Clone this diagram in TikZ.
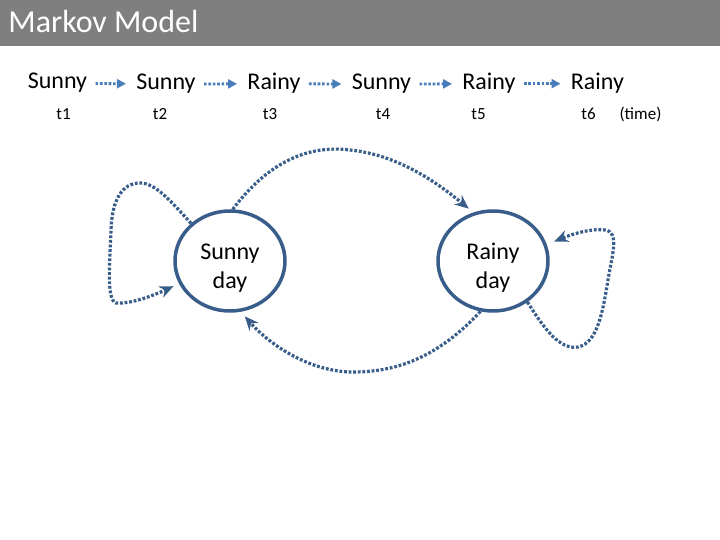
\documentclass[tikz,border=0pt]{standalone}
\usepackage{fontspec}
\setmainfont{Carlito}
\usetikzlibrary{arrows.meta, shapes.geometric}
\definecolor{titlegray}{HTML}{7F7F7F}
\definecolor{seqblue}{HTML}{4A7EBB}
\definecolor{statenavy}{HTML}{385D8A}

\begin{document}
\begin{tikzpicture}[x=0.5pt, y=-0.5pt,
  word/.style={anchor=base, inner sep=0pt, font=\fontsize{12}{14}\selectfont},
  tick/.style={anchor=base, inner sep=0pt, font=\fontsize{8.5}{10}\selectfont},
  seqarrow/.style={seqblue, line width=1.4pt, dash pattern=on 1.3pt off 0.9pt,
    -{Triangle[length=4.5pt, width=4.5pt]}, shorten <=4pt, shorten >=5pt},
  state/.style={ellipse, draw=statenavy, line width=1.75pt, minimum width=55pt,
    minimum height=50pt, inner sep=0pt, align=center,
    font=\fontsize{12}{14.5}\selectfont},
  trans/.style={statenavy, line width=1.6pt, dash pattern=on 1.4pt off 0.9pt,
    -{Stealth[length=7pt, width=6pt]}}]
  \useasboundingbox (0,0) rectangle (720,540);

  % title bar
  \fill[titlegray] (0,0) rectangle (720,46);
  \node[anchor=base west, inner sep=0pt, text=white,
        font=\fontsize{16}{19}\selectfont] (title) at (8,33) {Markov Model};

  % observed sequence over time
  \node[word] (w1) at (57.5,89) {Sunny};
  \node[word] (w2) at (166,90) {Sunny};
  \node[word] (w3) at (274,90) {Rainy};
  \node[word] (w4) at (381.5,90) {Sunny};
  \node[word] (w5) at (489,90) {Rainy};
  \node[word] (w6) at (597.5,90) {Rainy};
  \foreach \a/\b in {w1/w2, w2/w3, w3/w4, w4/w5, w5/w6}
    \draw[seqarrow] (\a) -- (\b);

  \node[tick] (t1) at (63.5,120) {t1};
  \node[tick] (t2) at (160,120) {t2};
  \node[tick] (t3) at (270,120) {t3};
  \node[tick] (t4) at (383,120) {t4};
  \node[tick] (t5) at (478.5,120) {t5};
  \node[tick] (t6) at (588.5,120) {t6};
  \node[tick] (timelbl) at (640.5,120) {(time)};

  % the two states (rule pushes the text a little down)
  \node[state] (sun) at (230,261) {\rule{0pt}{14.5pt}Sunny\\day};
  \node[state] (rain) at (493,261) {\rule{0pt}{14.5pt}Rainy\\day};

  % Sunny -> Sunny
  \draw[trans, shorten >=3pt] (sun.136)
    .. controls (170,200) and (155,183) .. (140,183)
    .. controls (122,183) and (112,200) .. (111,230)
    .. controls (110,260) and (106,300) .. (116,303)
    .. controls (130,304) and (150,297) .. (sun.204);
  % Sunny -> Rainy
  \draw[trans, shorten >=3pt] (sun.87)
    .. controls (270,160) and (310,145) .. (350,150)
    .. controls (400,155) and (440,185) .. (rain.112);
  % Rainy -> Sunny
  \draw[trans, shorten >=3pt] (rain.256)
    .. controls (440,355) and (400,372) .. (353,372)
    .. controls (310,372) and (270,345) .. (sun.282);
  % Rainy -> Rainy
  \draw[trans, shorten >=4pt] (rain.310)
    .. controls (545,330) and (560,350) .. (578,347)
    .. controls (598,343) and (603,310) .. (608,280)
    .. controls (612,255) and (620,232) .. (605,230)
    .. controls (590,228) and (570,235) .. (rain.17);
\end{tikzpicture}
\end{document}
